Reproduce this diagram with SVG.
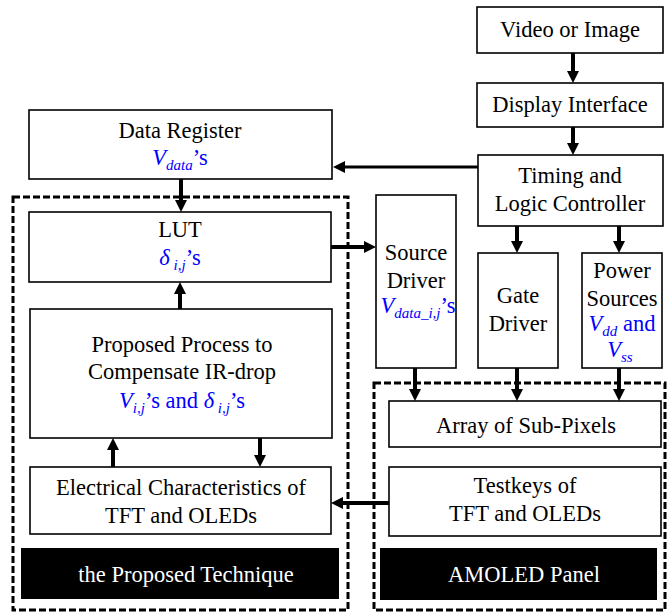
<svg xmlns="http://www.w3.org/2000/svg" width="672" height="614" viewBox="0 0 672 614">
<defs>
<style>
.box{fill:#fff;stroke:#000;stroke-width:1.6}
.dash{fill:none;stroke:#000;stroke-width:3;stroke-dasharray:7 3}
.blk{fill:#000}
.t{font-family:'Liberation Serif','Tinos','DejaVu Serif',serif;font-size:22.5px;fill:#000;text-anchor:middle}
.w{fill:#fff}
.b{fill:#0000ff}
.i{font-style:italic}
.s{font-size:15px;font-style:italic}
.c{stroke:#000;stroke-width:4;fill:none;marker-end:url(#ah)}
</style>
<marker id="ah" markerUnits="userSpaceOnUse" markerWidth="12" markerHeight="12" refX="4" refY="6" orient="auto">
<path d="M0,0 L12,6 L0,12 z" fill="#000"/>
</marker>
</defs>
<rect width="672" height="614" fill="#fff"/>

<g id="group-proposed"><rect class="dash" x="13" y="197" width="335" height="413"/></g>
<g id="group-amoled"><rect class="dash" x="374" y="383" width="291" height="227"/></g>

<g id="video"><rect class="box" x="477" y="7" width="186" height="46"/><text class="t" x="570" y="37">Video or Image</text></g>
<g id="display"><rect class="box" x="477" y="83" width="186" height="44"/><text class="t" x="570" y="112">Display Interface</text></g>
<g id="timing"><rect class="box" x="478" y="155" width="185" height="71"/><text class="t" x="570" y="183">Timing and</text><text class="t" x="570" y="211">Logic Controller</text></g>
<g id="dataregister"><rect class="box" x="29" y="110" width="303" height="69"/><text class="t" x="180" y="138">Data Register</text><text class="t b" x="180" y="165"><tspan class="i">V</tspan><tspan class="s" dy="5">data</tspan><tspan dy="-5">’s</tspan></text></g>
<g id="lut"><rect class="box" x="29" y="212" width="302" height="70"/><text class="t" x="180" y="237">LUT</text><text class="t b" x="180" y="265"><tspan class="i">δ</tspan><tspan class="s" dy="5"> i,j</tspan><tspan dy="-5">’s</tspan></text></g>
<g id="source"><rect class="box" x="376" y="195" width="80" height="173"/><text class="t" x="416" y="260">Source</text><text class="t" x="416" y="288">Driver</text><text class="t b" x="418" y="313"><tspan class="i">V</tspan><tspan class="s" dy="5">data_i,j</tspan><tspan dy="-5">’s</tspan></text></g>
<g id="gate"><rect class="box" x="478" y="253" width="80" height="115"/><text class="t" x="518" y="303">Gate</text><text class="t" x="518" y="331">Driver</text></g>
<g id="power"><rect class="box" x="582" y="253" width="80" height="115"/><text class="t" x="622" y="278">Power</text><text class="t" x="622" y="306">Sources</text><text class="t b" x="622" y="331"><tspan class="i">V</tspan><tspan class="s" dy="5">dd</tspan><tspan dy="-5"> and</tspan></text><text class="t b" x="620" y="357"><tspan class="i">V</tspan><tspan class="s" dy="5">ss</tspan></text></g>
<g id="proposed"><rect class="box" x="30" y="309" width="302" height="129"/><text class="t" x="182" y="352">Proposed Process to</text><text class="t" x="182" y="379">Compensate IR-drop</text><text class="t b" x="182" y="408"><tspan class="i">V</tspan><tspan class="s" dy="5">i,j</tspan><tspan dy="-5">’s and </tspan><tspan class="i">δ</tspan><tspan class="s" dy="5"> i,j</tspan><tspan dy="-5">’s</tspan></text></g>
<g id="electrical"><rect class="box" x="30" y="467" width="301" height="67"/><text class="t" x="181" y="495">Electrical Characteristics of</text><text class="t" x="181" y="523">TFT and OLEDs</text></g>
<g id="technique"><rect class="blk" x="21" y="548" width="318" height="51"/><text class="t w" x="186" y="582">the Proposed Technique</text></g>
<g id="array"><rect class="box" x="389" y="401" width="272" height="46"/><text class="t" x="526" y="433">Array of Sub-Pixels</text></g>
<g id="testkeys"><rect class="box" x="389" y="467" width="272" height="69"/><text class="t" x="525" y="493">Testkeys of</text><text class="t" x="525" y="521">TFT and OLEDs</text></g>
<g id="panel"><rect class="blk" x="380" y="548" width="277" height="52"/><text class="t w" x="524" y="582">AMOLED Panel</text></g>

<g id="connectors">
<line class="c" x1="573" y1="53" x2="573" y2="75"/>
<line class="c" x1="573" y1="127" x2="573" y2="147"/>
<line class="c" style="stroke-width:3" x1="478" y1="167" x2="341" y2="167"/>
<line class="c" x1="181" y1="179" x2="181" y2="204"/>
<line class="c" x1="331" y1="247" x2="368" y2="247"/>
<line class="c" x1="180" y1="309" x2="180" y2="290"/>
<line class="c" x1="113" y1="467" x2="113" y2="446"/>
<line class="c" x1="260" y1="438" x2="260" y2="459"/>
<line class="c" x1="517" y1="226" x2="517" y2="245"/>
<line class="c" x1="619" y1="226" x2="619" y2="245"/>
<line class="c" x1="415" y1="368" x2="415" y2="393"/>
<line class="c" x1="517" y1="368" x2="517" y2="393"/>
<line class="c" x1="619" y1="368" x2="619" y2="393"/>
<line class="c" x1="389" y1="503" x2="339" y2="503"/>
</g>
</svg>
